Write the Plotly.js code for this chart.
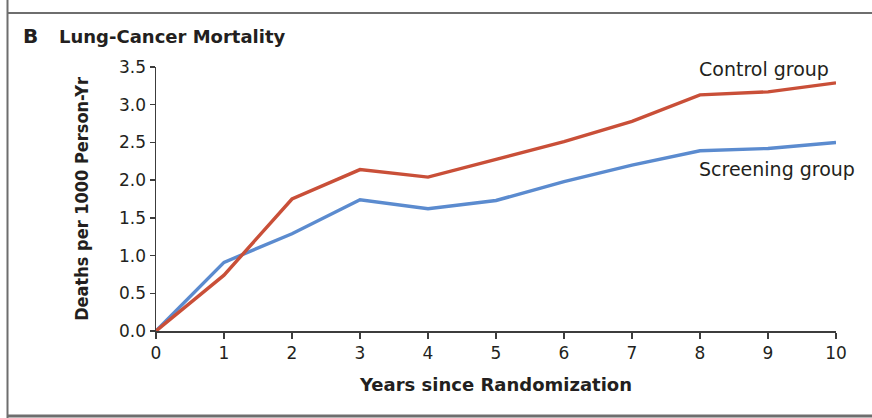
<!DOCTYPE html>
<html>
<head>
<meta charset="utf-8">
<script src="https://cdn.plot.ly/plotly-3.0.1.min.js"></script>
<style>html,body{margin:0;padding:0;background:#fff;}#chart{width:872px;height:418px;}</style>
</head>
<body>
<div id="chart"></div>
<script>
// Data
const years = [0, 1, 2, 3, 4, 5, 6, 7, 8, 9, 10];
const controlGroup = [0, 0.74, 1.75, 2.14, 2.04, 2.28, 2.51, 2.78, 3.13, 3.17, 3.29];
const screeningGroup = [0, 0.91, 1.29, 1.74, 1.62, 1.73, 1.98, 2.20, 2.39, 2.42, 2.50];
const xTicks = [0, 1, 2, 3, 4, 5, 6, 7, 8, 9, 10];
const yTicks = [0, 0.5, 1.0, 1.5, 2.0, 2.5, 3.0, 3.5];
const yTickText = ['0.0', '0.5', '1.0', '1.5', '2.0', '2.5', '3.0', '3.5'];

const RED = '#c94f38';
const BLUE = '#5b8bcf';
const TXT = '#231f20';
const AX = '#3c3c3c';
const FRAME = '#6e6e6e';

const traces = [
  {x: years, y: screeningGroup, type: 'scatter', mode: 'lines', name: 'Screening group',
   line: {color: BLUE, width: 3.4}, hoverinfo: 'skip'},
  {x: years, y: controlGroup, type: 'scatter', mode: 'lines', name: 'Control group',
   line: {color: RED, width: 3.4}, hoverinfo: 'skip'}
];

const layout = {
  width: 872, height: 418,
  margin: {l: 156, r: 36, t: 67, b: 87},
  paper_bgcolor: '#fff', plot_bgcolor: '#fff',
  showlegend: false,
  font: {family: 'DejaVu Sans, sans-serif', color: TXT},
  xaxis: {
    range: [0, 10], tickvals: xTicks, ticktext: xTicks.map(String),
    showgrid: false, zeroline: false, showline: true, linecolor: AX, linewidth: 1.5,
    ticks: 'outside', ticklen: 6, tickwidth: 1.5, tickcolor: AX,
    tickfont: {size: 17, color: TXT},
    title: {text: 'Years since Randomization', font: {size: 18, color: TXT, family: 'DejaVu Sans, sans-serif', weight: 'bold'}, standoff: 16},
    fixedrange: true
  },
  yaxis: {
    range: [0, 3.5], tickvals: yTicks, ticktext: yTickText,
    showgrid: false, zeroline: false, showline: true, linecolor: AX, linewidth: 1.5,
    ticks: 'outside', ticklen: 5, tickwidth: 1.5, tickcolor: AX,
    tickfont: {size: 17, color: TXT},
    title: {text: 'Deaths per 1000 Person-Yr', font: {size: 18, color: TXT, family: 'DejaVu Sans Condensed, DejaVu Sans, sans-serif', weight: 'bold'}, standoff: 26},
    fixedrange: true
  },
  annotations: [
    {xref: 'paper', yref: 'paper', x: (21 - 156) / 680, y: (331 - 36) / 264, xanchor: 'left', yanchor: 'middle',
     text: '<b>B</b>', showarrow: false, font: {size: 20, color: TXT}},
    {xref: 'paper', yref: 'paper', x: (57 - 156) / 680, y: (331 - 36) / 264, xanchor: 'left', yanchor: 'middle',
     text: '<b>Lung-Cancer Mortality</b>', showarrow: false, font: {size: 18, color: TXT}},
    {xref: 'x', yref: 'y', x: 7.95, y: 3.48, xanchor: 'left', yanchor: 'middle',
     text: 'Control group', showarrow: false, font: {size: 19, color: TXT}},
    {xref: 'x', yref: 'y', x: 7.95, y: 2.15, xanchor: 'left', yanchor: 'middle',
     text: 'Screening group', showarrow: false, font: {size: 19, color: TXT}}
  ],
  shapes: [
    {type: 'line', xref: 'paper', yref: 'paper', x0: (7.5 - 156) / 680, x1: (7.5 - 156) / 680, y0: (331 - 0) / 264, y1: (331 - 418) / 264,
     line: {color: FRAME, width: 2}},
    {type: 'line', xref: 'paper', yref: 'paper', x0: (7.5 - 156) / 680, x1: (872 - 156) / 680, y0: (331 - 13) / 264, y1: (331 - 13) / 264,
     line: {color: FRAME, width: 2}},
    {type: 'line', xref: 'paper', yref: 'paper', x0: (7.5 - 156) / 680, x1: (872 - 156) / 680, y0: (331 - 416) / 264, y1: (331 - 416) / 264,
     line: {color: FRAME, width: 3}}
  ]
};

Plotly.newPlot('chart', traces, layout, {displayModeBar: false, staticPlot: true});
</script>
</body>
</html>
